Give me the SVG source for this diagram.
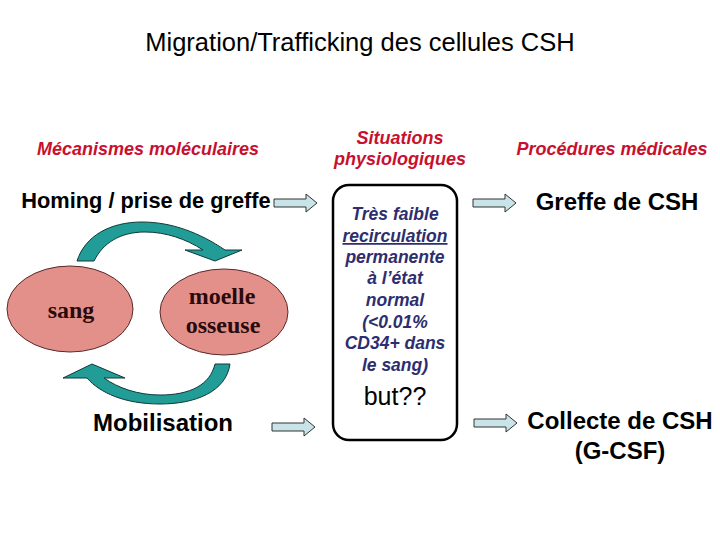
<svg xmlns="http://www.w3.org/2000/svg" width="720" height="540" viewBox="0 0 720 540">
<defs>
<style>
.t{font-family:"Liberation Sans",Arial,sans-serif;text-anchor:middle}
.title{font-size:25.5px;fill:#000}
.hdr{font-size:18px;font-weight:bold;font-style:italic;fill:#c8102e}
.big{font-weight:bold;fill:#000}
.box{font-size:17.5px;font-weight:bold;font-style:italic;fill:#2e2e6e}
.ser{font-family:"Liberation Serif","Times New Roman",serif;font-weight:bold;font-size:24px;fill:#2a0a0a;text-anchor:middle}
.ell{fill:#e3908a;stroke:#5a2a2a;stroke-width:1}
.curv{fill:#229c96;stroke:#0e3a38;stroke-width:1}
.sarr{fill:#c8e4e8;stroke:#333;stroke-width:1}
</style>
<path id="arr" d="M0,-4 L32,-4 L32,-9 L43,0 L32,9 L32,4 L0,4 Z"/>
</defs>
<rect width="720" height="540" fill="#fff"/>
<text class="t title" x="360" y="51">Migration/Trafficking des cellules CSH</text>
<text class="t hdr" x="148" y="155">Mécanismes moléculaires</text>
<text class="t hdr" x="400" y="144">Situations</text>
<text class="t hdr" x="400" y="165">physiologiques</text>
<text class="t hdr" x="612" y="155">Procédures médicales</text>

<g id="homing"><text class="t big" x="146" y="208" font-size="21.8">Homing / prise de greffe</text></g>
<g id="mobilisation"><text class="t big" x="163" y="431" font-size="24">Mobilisation</text></g>

<g id="sang">
<ellipse class="ell" cx="70" cy="309" rx="63" ry="43"/>
<text class="ser" x="71" y="318">sang</text>
</g>
<g id="moelle">
<ellipse class="ell" cx="224" cy="312" rx="64" ry="43"/>
<text class="ser" x="222" y="304">moelle</text>
<text class="ser" x="223" y="333">osseuse</text>
</g>

<g id="situation">
<rect x="333" y="185" width="124" height="255" rx="16" ry="16" fill="#fff" stroke="#000" stroke-width="2.5"/>
<text class="t box" x="395" y="220">Très faible</text>
<text class="t box" x="395" y="242" text-decoration="underline">recirculation</text>
<text class="t box" x="395" y="263">permanente</text>
<text class="t box" x="395" y="284">à l’état</text>
<text class="t box" x="395" y="306">normal</text>
<text class="t box" x="395" y="328">(&lt;0.01%</text>
<text class="t box" x="395" y="349">CD34+ dans</text>
<text class="t box" x="395" y="371">le sang)</text>
<text class="t" x="395" y="405" font-size="25" fill="#000">but??</text>
</g>

<g id="greffe"><text class="t big" x="617" y="210" font-size="24">Greffe de CSH</text></g>
<g id="collecte">
<text class="t big" x="620" y="429" font-size="24">Collecte de CSH</text>
<text class="t big" x="620" y="459" font-size="24">(G-CSF)</text>
</g>

<g id="connectors">
<path class="curv" d="M77,261 C 85,236 110,222 142,222 C 172,222 200,233 225,250 L 242,250 L 215,261 L 185,250 L 203,250 C 186,239 166,232 145,232 C 120,232 103,243 94,261 Z"/>
<path class="curv" d="M230,364 C 226,392 195,404 160,404 C 125,404 100,393 87,378 L 63,378 L 92,364 L 125,378 L 104,378 C 118,388 138,395 160,395 C 190,395 210,385 215,364 Z"/>
<use href="#arr" class="sarr" x="274" y="203"/>
<use href="#arr" class="sarr" x="473" y="203"/>
<use href="#arr" class="sarr" x="272" y="427"/>
<use href="#arr" class="sarr" x="474" y="423"/>
</g>
</svg>
